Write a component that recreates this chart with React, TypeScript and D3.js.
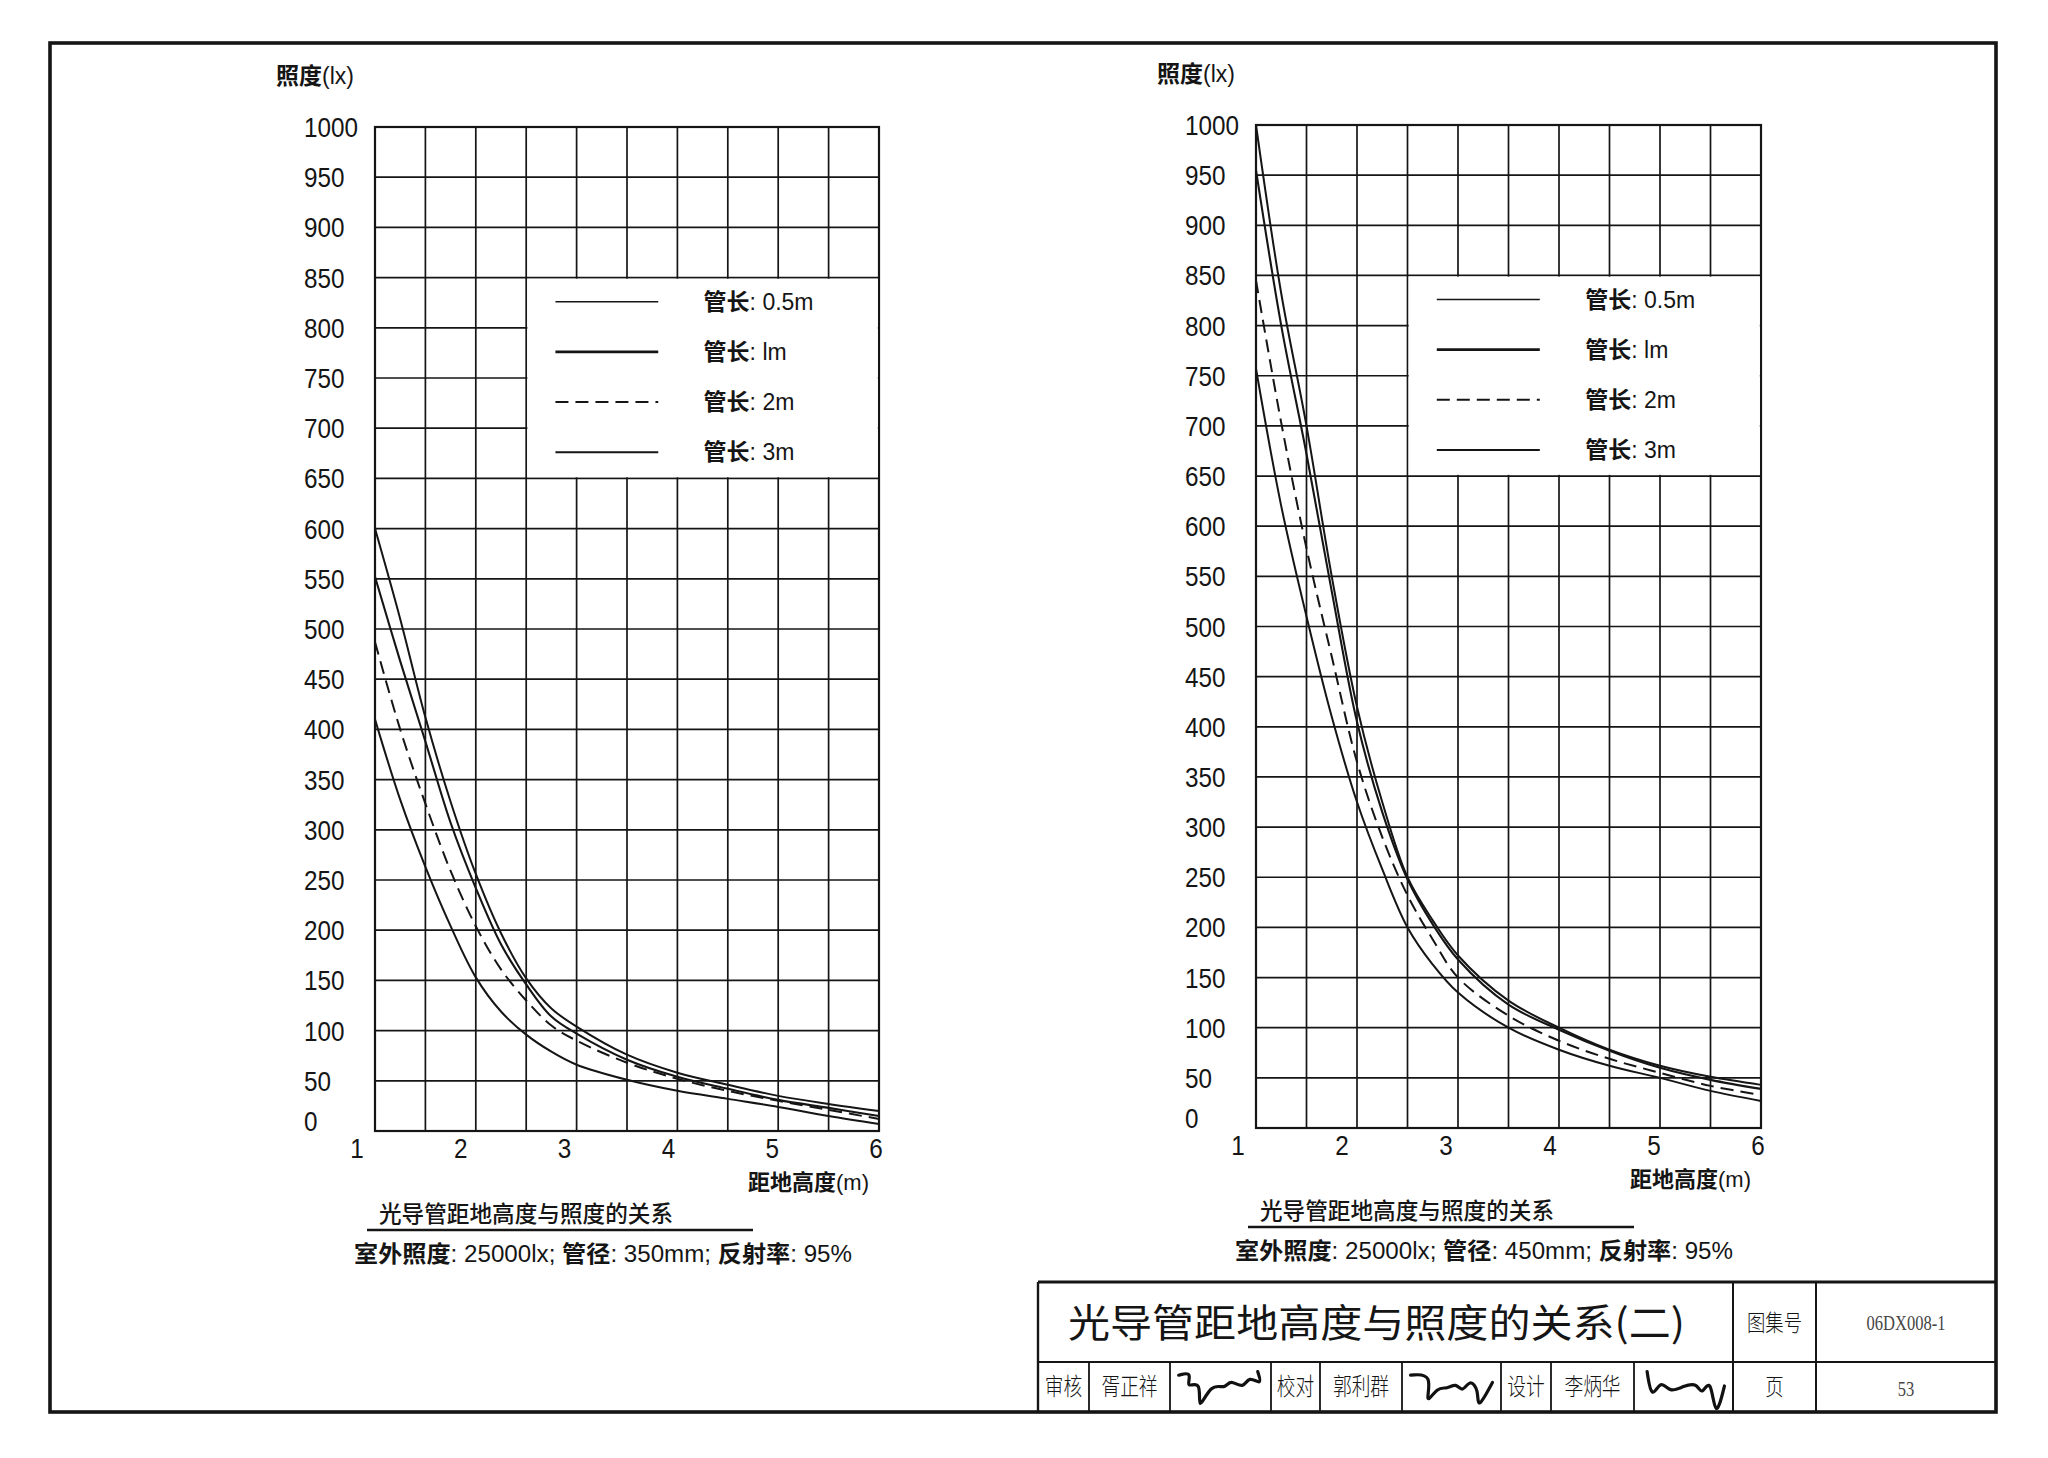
import React from 'react';
import * as d3 from 'd3';

// ---------- data ----------
const X_VALUES = [1, 1.25, 1.5, 1.75, 2, 2.25, 2.5, 2.75, 3, 3.5, 4, 4.5, 5, 5.5, 6];
const X_TICKS = [1, 2, 3, 4, 5, 6];
const X_GRID = [1, 1.5, 2, 2.5, 3, 3.5, 4, 4.5, 5, 5.5, 6];
const Y_TICKS = [0, 50, 100, 150, 200, 250, 300, 350, 400, 450, 500, 550, 600, 650, 700, 750, 800, 850, 900, 950, 1000];
const SERIES_NAMES = ['0.5m', 'lm', '2m', '3m'];

// 管径 350mm
const L_05 = [600, 510, 412, 328, 256, 197, 152, 122, 104, 76, 58, 46, 35, 27, 20];
const L_1 = [552, 468, 388, 307, 242, 186, 146, 114, 97, 71, 54, 42, 31, 23, 15];
const L_2 = [487, 400, 326, 259, 204, 161, 130, 105, 90, 68, 52, 40, 30, 21, 12];
const L_3 = [410, 330, 263, 204, 153, 119, 96, 79, 66, 51, 40, 32, 24, 15, 7];

// 管径 450mm
const R_05 = [1000, 832, 700, 550, 420, 325, 250, 207, 172, 127, 100, 78, 62, 51, 43];
const R_1 = [955, 800, 672, 535, 405, 315, 248, 203, 168, 123, 98, 77, 60, 48, 39];
const R_2 = [845, 703, 578, 470, 365, 290, 232, 188, 150, 112, 87, 69, 55, 42, 33];
const R_3 = [757, 620, 510, 410, 325, 258, 200, 163, 135, 100, 78, 62, 50, 37, 27];

const LEFT_DIAMETER = '350mm';
const RIGHT_DIAMETER = '450mm';

const CJK = '"Noto Sans CJK SC", "Noto Sans", sans-serif';
const LAT = '"Liberation Sans", Arial, sans-serif';
const INK = '#151515';

const STYLES = [
  { w: 2, dash: undefined as string | undefined, lw: 1.6 },
  { w: 2.1, dash: undefined as string | undefined, lw: 2.6 },
  { w: 2, dash: '13,7', lw: 2 },
  { w: 2, dash: undefined as string | undefined, lw: 2 },
];

type PanelProps = {
  x0: number; x1: number; y0: number; y1: number;
  series: number[][]; diameter: string;
};

const Panel = ({ x0, x1, y0, y1, series, diameter }: PanelProps) => {
  const xs = d3.scaleLinear().domain([1, 6]).range([x0, x1]);
  const ys = d3.scaleLinear().domain([0, 1000]).range([y1, y0]);
  const xl = d3.scaleLinear().domain([1, 6]).range([x0 - 18, x1 - 3]);
  const line = d3
    .line<number>()
    .x((_, i) => xs(X_VALUES[i]))
    .y((d) => ys(d))
    .curve(d3.curveCatmullRom.alpha(0.5));

  const lgX0 = xs(2.5), lgX1 = xs(6), lgY0 = ys(850), lgY1 = ys(650);
  return (
    <g>
      {X_GRID.map((g) => (
        <line key={'vx' + g} x1={xs(g)} x2={xs(g)} y1={y0} y2={y1} stroke={INK} strokeWidth={1.7} />
      ))}
      {Y_TICKS.map((t) => (
        <line key={'hy' + t} x1={x0} x2={x1} y1={ys(t)} y2={ys(t)} stroke={INK} strokeWidth={1.7} />
      ))}
      <rect x={x0} y={y0} width={x1 - x0} height={y1 - y0} fill="none" stroke={INK} strokeWidth={2.2} />
      <rect x={lgX0 + 1.2} y={lgY0 + 1.2} width={lgX1 - lgX0 - 2.4} height={lgY1 - lgY0 - 2.4} fill="#fff" />
      {series.map((s, i) => (
        <path key={'c' + i} d={line(s) || ''} fill="none" stroke={INK} strokeWidth={STYLES[i].w}
          strokeDasharray={STYLES[i].dash} />
      ))}
      {SERIES_NAMES.map((n, i) => {
        const y = ys(826 - 50 * i);
        return (
          <g key={'lg' + n}>
            <line x1={xs(2.79)} x2={xs(3.81)} y1={y} y2={y} stroke={INK} strokeWidth={STYLES[i].lw}
              strokeDasharray={STYLES[i].dash} />
            <text x={xs(4.26)} y={y + 8} fontSize={23} fill={INK}>
              <tspan fontFamily={CJK} fontWeight={700}>管长</tspan>
              <tspan fontFamily={LAT}>: {n}</tspan>
            </text>
          </g>
        );
      })}
      {Y_TICKS.map((t) => (
        <text key={'yl' + t} transform={`translate(${x0 - 71},${ys(t) + 10 - (t === 0 ? 10 : 0)}) scale(0.9,1)`}
          fontFamily={LAT} fontSize={27} fill={INK}>{t}</text>
      ))}
      {X_TICKS.map((t) => (
        <text key={'xl' + t} transform={`translate(${xl(t)},${y1 + 27}) scale(0.9,1)`} textAnchor="middle"
          fontFamily={LAT} fontSize={27} fill={INK}>{t}</text>
      ))}
      <text x={x0 - 99} y={y0 - 43} fontSize={23} fill={INK}>
        <tspan fontFamily={CJK} fontWeight={700}>照度</tspan>
        <tspan fontFamily={LAT}>(lx)</tspan>
      </text>
      <text x={x1 - 10} y={y1 + 59} fontSize={22} fill={INK} textAnchor="end">
        <tspan fontFamily={CJK} fontWeight={700}>距地高度</tspan>
        <tspan fontFamily={LAT}>(m)</tspan>
      </text>
      <text x={x0 + 4} y={y1 + 91} fontSize={23} fill={INK} fontFamily={CJK} fontWeight={500}
        textLength={294} lengthAdjust="spacingAndGlyphs">光导管距地高度与照度的关系</text>
      <line x1={x0 - 8} x2={x0 + 378} y1={y1 + 99} y2={y1 + 99} stroke={INK} strokeWidth={2.6} />
      <text x={x0 - 21} y={y1 + 131} fontSize={23} fill={INK} textLength={498} lengthAdjust="spacingAndGlyphs">
        <tspan fontFamily={CJK} fontWeight={700}>室外照度</tspan>
        <tspan fontFamily={LAT}>: 25000lx;  </tspan>
        <tspan fontFamily={CJK} fontWeight={700}>管径</tspan>
        <tspan fontFamily={LAT}>: {diameter};  </tspan>
        <tspan fontFamily={CJK} fontWeight={700}>反射率</tspan>
        <tspan fontFamily={LAT}>: 95%</tspan>
      </text>
    </g>
  );
};

// normalized stroke shapes for the three handwritten signatures (decoration only)
const SIG_SHAPES: [number, number][][] = [
  [[0.05, 0.2], [0.2, 0.1], [0.12, 0.6], [0.3, 0.3], [0.25, 1.3], [0.4, 0.4], [0.55, 0.6], [0.6, 0.3], [0.75, 0.6], [0.8, 0.2], [0.95, 0.5], [0.9, 0.1]],
  [[0.05, 0.2], [0.3, 0.15], [0.2, 1.1], [0.35, 0.5], [0.45, 0.6], [0.55, 0.4], [0.62, 0.7], [0.7, 0.3], [0.8, 0.6], [0.78, 1.2], [0.95, 0.4]],
  [[0.1, 0.1], [0.15, 0.9], [0.25, 0.3], [0.35, 0.7], [0.5, 0.5], [0.65, 0.4], [0.7, 0.8], [0.8, 0.2], [0.85, 1.5], [0.95, 0.5]],
];

const TitleBlock = () => {
  const L = 1038, R = 1996, T = 1282, M = 1362, B = 1412;
  const colA = 1733, colB = 1816;
  const bottomDiv = [1089, 1170, 1271, 1320, 1402, 1501, 1551, 1634];
  const cells = [
    { t: '审核', a: 1038, b: 1089 },
    { t: '胥正祥', a: 1089, b: 1170 },
    { t: '校对', a: 1271, b: 1320 },
    { t: '郭利群', a: 1320, b: 1402 },
    { t: '设计', a: 1501, b: 1551 },
    { t: '李炳华', a: 1551, b: 1634 },
  ];
  const sigCells = [[1170, 1271], [1402, 1501], [1634, 1733]];
  return (
    <g>
      <line x1={L} x2={R} y1={T} y2={T} stroke={INK} strokeWidth={3.2} />
      <line x1={L} x2={L} y1={T} y2={B} stroke={INK} strokeWidth={2.4} />
      <line x1={L} x2={R} y1={M} y2={M} stroke={INK} strokeWidth={2} />
      <line x1={colA} x2={colA} y1={T} y2={B} stroke={INK} strokeWidth={2} />
      <line x1={colB} x2={colB} y1={T} y2={B} stroke={INK} strokeWidth={2} />
      {bottomDiv.map((x) => (
        <line key={x} x1={x} x2={x} y1={M} y2={B} stroke={INK} strokeWidth={1.8} />
      ))}
      {sigCells.map(([a, b], i) => {
        const sx = d3.scaleLinear().domain([0, 1]).range([a + 4, b - 4]);
        const sy = d3.scaleLinear().domain([0, 1]).range([M + 6, B - 8]);
        const p = d3.line<[number, number]>().x((d) => sx(d[0])).y((d) => sy(d[1])).curve(d3.curveBasis);
        return <path key={'sig' + i} d={p(SIG_SHAPES[i]) || ''} fill="none" stroke="#111" strokeWidth={3.2}
          strokeLinecap="round" strokeLinejoin="round" />;
      })}
      <text x={1068} y={1337} fontFamily={CJK} fontSize={39} fill={INK} textLength={617}
        lengthAdjust="spacingAndGlyphs">光导管距地高度与照度的关系(二)</text>
      <text transform={`translate(${(colA + colB) / 2},${1331}) scale(0.8,1)`} textAnchor="middle"
        fontFamily={CJK} fontWeight={300} fontSize={23} fill={INK}>图集号</text>
      <text transform={`translate(${(colB + R) / 2},${1330}) scale(0.75,1)`} textAnchor="middle"
        fontFamily='"Liberation Serif", serif' fontSize={22} fill="#444">06DX008-1</text>
      <text transform={`translate(${(colA + colB) / 2},${1395}) scale(0.8,1)`} textAnchor="middle"
        fontFamily={CJK} fontWeight={300} fontSize={23} fill={INK}>页</text>
      <text transform={`translate(${(colB + R) / 2},${1396}) scale(0.75,1)`} textAnchor="middle"
        fontFamily='"Liberation Serif", serif' fontSize={22} fill="#444">53</text>
      {cells.map((c) => (
        <text key={c.t} transform={`translate(${(c.a + c.b) / 2},${1395}) scale(0.78,1)`} textAnchor="middle"
          fontFamily={CJK} fontWeight={300} fontSize={24} fill={INK}>{c.t}</text>
      ))}
    </g>
  );
};

export default function App() {
  return (
    <svg width={2048} height={1458} viewBox="0 0 2048 1458"
      style={{ position: 'absolute', left: 0, top: 0, background: '#fff', display: 'block' }}>
      <rect x={0} y={0} width={2048} height={1458} fill="#fff" />
      <rect x={50} y={43} width={1946} height={1369} fill="none" stroke={INK} strokeWidth={3.6} />
      <Panel x0={375} x1={879} y0={127} y1={1131} series={[L_05, L_1, L_2, L_3]} diameter={LEFT_DIAMETER} />
      <Panel x0={1256} x1={1761} y0={125} y1={1128} series={[R_05, R_1, R_2, R_3]} diameter={RIGHT_DIAMETER} />
      <TitleBlock />
    </svg>
  );
}
